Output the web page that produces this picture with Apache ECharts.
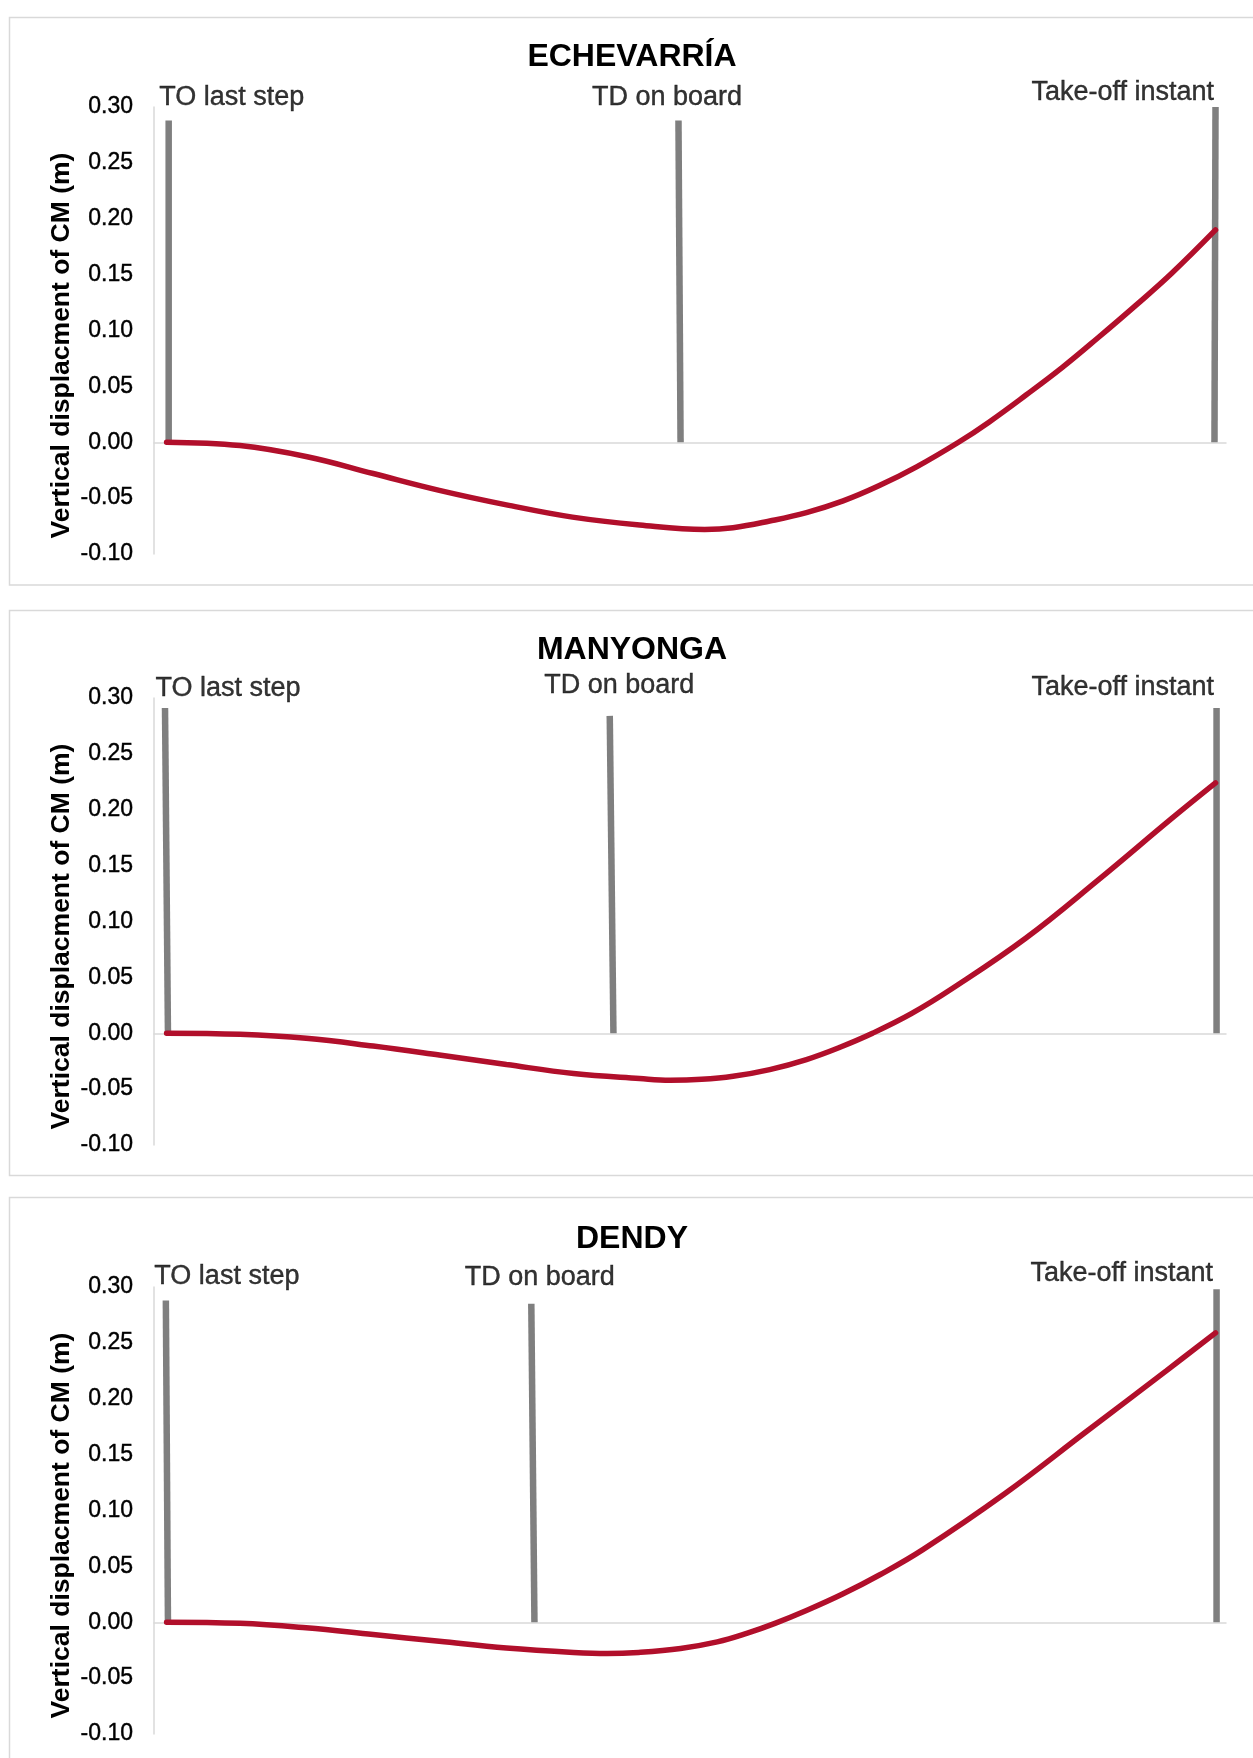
<!DOCTYPE html>
<html><head><meta charset="utf-8">
<script src="https://cdn.jsdelivr.net/npm/echarts@6/dist/echarts.min.js"></script>
<style>html,body{margin:0;padding:0;background:#fff;} #c{width:1253px;height:1758px;}</style>
</head><body><div id="c"></div>
<script>
// ---- data (x = % of time from TO of last step to take-off, y = vertical displacement of CM in m)
const athletes = ['ECHEVARRÍA', 'MANYONGA', 'DENDY'];
const markerNames = ['TO last step', 'TD on board', 'Take-off instant'];
const yAxisTitle = 'Vertical displacment of CM (m)';

const echevarriaTime = [0, 7, 13.4, 19.7, 26, 32.4, 38.7, 45.1, 51.3, 54, 57.5, 61, 64.5, 67.9, 71.5, 75.5, 78.4, 81.9, 85.4, 88.8, 92.4, 95.8, 100];
const echevarriaCM   = [0, -0.003, -0.013, -0.028, -0.043, -0.056, -0.067, -0.074, -0.078, -0.0765, -0.0705, -0.063, -0.0525, -0.039, -0.022, 0, 0.018, 0.042, 0.067, 0.0935, 0.1225, 0.151, 0.190];

const manyongaTime = [0, 7, 13.3, 19.7, 26, 32.4, 38.8, 45.1, 48, 51, 54, 57.5, 61, 64.2, 67.3, 71, 74.9, 81.9, 88.8, 95.8, 100];
const manyongaCM   = [0, -0.001, -0.0045, -0.0115, -0.0195, -0.028, -0.036, -0.0405, -0.042, -0.0412, -0.0385, -0.0325, -0.0235, -0.0125, 0, 0.0175, 0.040, 0.085, 0.137, 0.192, 0.224];

const dendyTime = [0, 7, 13.3, 19.7, 26, 32.4, 38.8, 42, 45, 49, 52.5, 55.3, 58, 61, 64.4, 68, 72.1, 79.9, 87.6, 95.3, 100];
const dendyCM   = [0, -0.001, -0.005, -0.011, -0.017, -0.023, -0.027, -0.028, -0.027, -0.0235, -0.0176, -0.010, -0.001, 0.0105, 0.025, 0.0425, 0.065, 0.115, 0.170, 0.225, 0.259];

// event marker lines: time at bottom (y = 0), time at top, value at top
const echevarriaMarkerBottomTime = [0.2, 49.0, 99.9];
const echevarriaMarkerTopTime    = [0.2, 48.8, 100.0];
const echevarriaMarkerTopValue   = [0.288, 0.288, 0.300];

const manyongaMarkerBottomTime = [0.13, 42.6, 100.1];
const manyongaMarkerTopTime    = [-0.15, 42.25, 100.1];
const manyongaMarkerTopValue   = [0.291, 0.284, 0.291];

const dendyMarkerBottomTime = [0.13, 35.07, 100.1];
const dendyMarkerTopTime    = [-0.07, 34.77, 100.1];
const dendyMarkerTopValue   = [0.288, 0.285, 0.298];

// ---- layout / style (kept apart from data)
const panels = [
  { time: echevarriaTime, cm: echevarriaCM, mb: echevarriaMarkerBottomTime, mt: echevarriaMarkerTopTime, mv: echevarriaMarkerTopValue },
  { time: manyongaTime, cm: manyongaCM, mb: manyongaMarkerBottomTime, mt: manyongaMarkerTopTime, mv: manyongaMarkerTopValue },
  { time: dendyTime, cm: dendyCM, mb: dendyMarkerBottomTime, mt: dendyMarkerTopTime, mv: dendyMarkerTopValue }
];
const panelTops = [15, 608, 1195];
const panelHeights = [567.5, 565, 620];
const gridTops = [107, 698, 1287];
const titleTops = [40, 633, 1222];
const labelStyles = [
  [{dx: -9, dy: -22, align: 'left'}, {dx: -11, dy: -22, align: 'center'}, {dx: -1, dy: -14, align: 'right'}],
  [{dx: -9, dy: -19, align: 'left'}, {dx: 10, dy: -30, align: 'center'}, {dx: -2, dy: -20, align: 'right'}],
  [{dx: -11, dy: -23, align: 'left'}, {dx: 9, dy: -26, align: 'center'}, {dx: -3, dy: -15, align: 'right'}]
];
const FONT = '"Liberation Sans", Arial, sans-serif';

const grid = [], xAxis = [], yAxis = [], series = [], title = [], graphic = [];
panels.forEach((p, i) => {
  graphic.push({ type: 'rect', left: 7, top: panelTops[i], shape: { x: 0, y: 0, width: 1300, height: panelHeights[i] },
    style: { fill: 'none', stroke: '#d9d9d9', lineWidth: 1.5 }, silent: true, z: -10 });
  title.push({ text: athletes[i], left: 632, top: titleTops[i] + 1, textAlign: 'center', padding: 0,
    textStyle: { fontFamily: FONT, fontSize: 32, fontWeight: 'bold', color: '#000' } });
  grid.push({ left: 154, width: 1072, top: gridTops[i], height: 447, containLabel: false });
  xAxis.push({ gridIndex: i, type: 'value', min: -1.2, max: 101,
    axisLine: { show: true, onZero: true, lineStyle: { color: '#d9d9d9', width: 1.5 } },
    axisTick: { show: false }, axisLabel: { show: false }, splitLine: { show: false } });
  yAxis.push({ gridIndex: i, type: 'value', min: -0.1, max: 0.3, interval: 0.05,
    name: yAxisTitle, nameLocation: 'middle', nameGap: 79, nameRotate: 90, nameMoveOverlap: false,
    nameTextStyle: { fontFamily: FONT, fontSize: 26.5, fontWeight: 'bold', color: '#000', padding: [0, 30, 0, 0] },
    axisLine: { show: true, onZero: false, lineStyle: { color: '#d9d9d9', width: 1.5 } },
    axisTick: { show: false }, splitLine: { show: false },
    axisLabel: { fontFamily: FONT, fontSize: 23, color: '#000', margin: 21, textBorderColor: '#000', textBorderWidth: 0.4,
      formatter: v => v.toFixed(2) } });
  for (let k = 0; k < 3; k++) {
    series.push({ type: 'line', xAxisIndex: i, yAxisIndex: i, symbol: 'none', silent: true, z: 2,
      lineStyle: { color: '#7f7f7f', width: 6.5, cap: 'butt' },
      data: [[p.mb[k], 0], [p.mt[k], p.mv[k]]] });
  }
  series.push({ type: 'line', xAxisIndex: i, yAxisIndex: i, symbol: 'none', smooth: 0.4, silent: true, z: 3,
    lineStyle: { color: '#b10f2b', width: 5.5, cap: 'round' },
    data: p.time.map((t, j) => [t, p.cm[j]]) });
  series.push({ type: 'scatter', xAxisIndex: i, yAxisIndex: i, symbolSize: 1, silent: true, z: 4,
    itemStyle: { color: 'rgba(255,255,255,0)' },
    data: markerNames.map((n, k) => ({
      value: [p.mt[k], p.mv[k]], name: n,
      label: { show: true, position: [labelStyles[i][k].dx, labelStyles[i][k].dy], formatter: n,
        align: labelStyles[i][k].align, verticalAlign: 'middle',
        fontFamily: FONT, fontSize: 27, color: '#000', textBorderColor: '#000', textBorderWidth: 0.4 }
    })) });
});

const chart = echarts.init(document.getElementById('c'), null, { renderer: 'canvas' });
chart.setOption({ animation: false, backgroundColor: '#fff', title, grid, xAxis, yAxis, series, graphic });
</script>
</body></html>
